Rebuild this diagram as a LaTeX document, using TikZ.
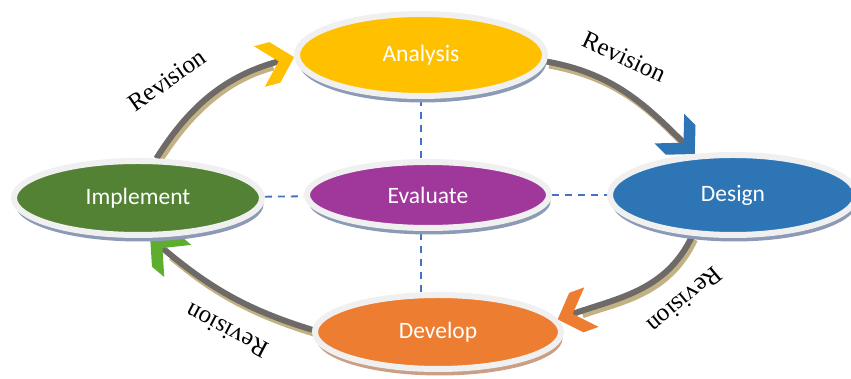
\documentclass[tikz,border=0pt]{standalone}
\usepackage{fontspec}
\setsansfont{Carlito}
\newfontfamily\revfont{Liberation Serif}
\usetikzlibrary{shapes.geometric,arrows.meta,shadows}
\pgfdeclarelayer{bg}
\pgfsetlayers{bg,main}
\definecolor{anacol}{HTML}{FFC000}
\definecolor{descol}{HTML}{2E75B6}
\definecolor{impcol}{HTML}{548235}
\definecolor{evacol}{HTML}{A0379B}
\definecolor{devcol}{HTML}{ED7D31}
\definecolor{ringcol}{HTML}{F0F0F0}
\definecolor{shblue}{HTML}{8C9AB5}
\definecolor{shtan}{HTML}{C9A086}
\definecolor{arcgray}{HTML}{6E6A68}
\definecolor{arctan}{HTML}{C2B283}
\definecolor{dashblue}{HTML}{4472C4}
\definecolor{arrgreen}{HTML}{5FAD2F}

% thick chevron tip
\pgfdeclarearrow{
  name=Chev,
  setup code={
    \pgfarrowssettipend{0pt}
    \pgfarrowssetlineend{-15pt}
    \pgfarrowssetbackend{-36pt}
    \pgfarrowssetvisualbackend{-15pt}
    \pgfarrowshullpoint{0pt}{0pt}
    \pgfarrowsupperhullpoint{-20pt}{21pt}
    \pgfarrowsupperhullpoint{-36pt}{21pt}
  },
  drawing code={
    \pgfpathmoveto{\pgfpoint{0pt}{0pt}}
    \pgfpathlineto{\pgfpoint{-20pt}{21pt}}
    \pgfpathlineto{\pgfpoint{-36pt}{21pt}}
    \pgfpathlineto{\pgfpoint{-16pt}{0pt}}
    \pgfpathlineto{\pgfpoint{-36pt}{-21pt}}
    \pgfpathlineto{\pgfpoint{-20pt}{-21pt}}
    \pgfpathclose
    \pgfusepathqfill
  }
}

\begin{document}
\begin{tikzpicture}[x=1pt,y=1pt,
  phase/.style={ellipse, draw=ringcol, line width=6pt, text=white, inner sep=0pt,
    font=\sffamily\fontsize{23.5}{26}\selectfont,
    drop shadow={shadow xshift=1.5pt, shadow yshift=-6.5pt, fill=#1, opacity=1}},
  phase/.default=shblue,
  rev/.style={font=\revfont\fontsize{25}{27}\selectfont},
  link/.style={draw=arcgray, line width=6pt},
  linksh/.style={draw=arctan, line width=6pt, transform canvas={shift={(2.5,-4)}}, shorten >=24pt},
  chev/.style={-{Chev[color=#1]}},
  tie/.style={draw=dashblue, line width=1.8pt, dash pattern=on 7pt off 6pt}]
  \useasboundingbox (0,0) rectangle (851,379);

  \node[phase, fill=anacol, minimum width=248, minimum height=82] (An) at (421,324) {Analysis};
  \node[phase, fill=descol, minimum width=246, minimum height=80] (De) at (733,184) {Design};
  \node[phase, fill=impcol, minimum width=248, minimum height=74] (Im) at (138,181) {Implement};
  \node[phase, fill=evacol, minimum width=242, minimum height=66] (Ev) at (428,184) {Evaluate};
  \node[phase=shtan, fill=devcol, minimum width=246, minimum height=74] (Dv) at (438,47) {Develop};

  \node[rev, rotate=35] (r1) at (167,299) {Revision};
  \node[rev, rotate=-25] (r2) at (624,322) {Revision};
  \node[rev, rotate=-140] (r3) at (685,79) {Revision};
  \node[rev, rotate=152] (r4) at (227,48) {Revision};

  \begin{pgfonlayer}{bg}
    % revision loop
    \draw[linksh] (An.-3) to[out=-10,in=135] (De.133);
    \draw[link, chev=descol] (An.-3) to[out=-10,in=135] (De.133);
    \draw[linksh] (De.-135) to[out=-115,in=20] (Dv.6);
    \draw[link, chev=devcol] (De.-135) to[out=-115,in=20] (Dv.6);
    \draw[linksh] (Dv.179) to[out=163,in=-40] (Im.-73);
    \draw[link, chev=arrgreen] (Dv.179) to[out=163,in=-40] (Im.-73);
    \draw[linksh] (Im.65) to[out=58,in=195] (An.181);
    \draw[link, chev=anacol] (Im.65) to[out=58,in=195] (An.181);
    % evaluate ties
    \draw[tie] (An.south) -- (An.south |- Ev.north);
    \draw[tie] (Dv.north -| An.south) -- (Ev.south -| An.south);
    \draw[tie] (Im) -- (Ev);
    \draw[tie] (Ev) -- (De);
  \end{pgfonlayer}
\end{tikzpicture}
\end{document}
